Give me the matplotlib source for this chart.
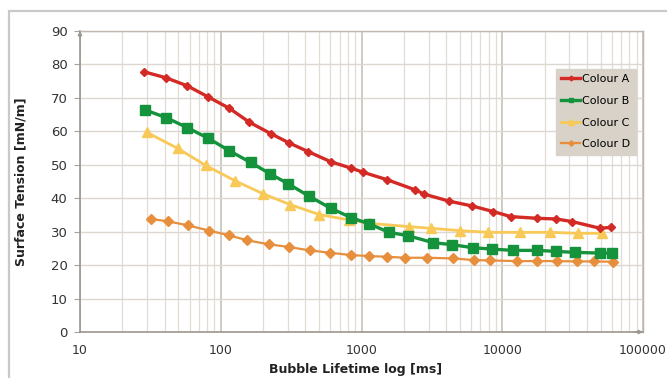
import matplotlib.pyplot as plt
from matplotlib.patches import Rectangle
from matplotlib.ticker import LogLocator, FixedLocator, NullFormatter

# bubble lifetime [ms] and surface tension [mN/m]
time_a = [28.5, 40.9, 57.9, 81.3, 115, 160, 227, 307, 420, 605, 844, 1021,
          1528, 2405, 2800, 4217, 6080, 8650, 11510, 17620, 24150, 31550,
          49650, 59150]
tension_a = [77.8, 76.0, 73.6, 70.3, 66.9, 62.7, 59.3, 56.5, 53.9, 50.9, 49.0,
             47.8, 45.5, 42.5, 41.2, 39.1, 37.7, 36.0, 34.5, 34.0, 33.8, 33.0,
             31.0, 31.3]

time_b = [29.0, 40.9, 57.9, 81.7, 115, 163, 224, 302, 424, 605, 844, 1138,
          1571, 2133, 3244, 4428, 6180, 8440, 11890, 17790, 24150, 32960,
          49650, 60100]
tension_b = [66.4, 64.1, 61.1, 57.9, 54.2, 50.7, 47.3, 44.3, 40.6, 37.0, 34.2,
             32.3, 29.8, 28.8, 26.7, 26.1, 25.2, 24.8, 24.4, 24.4, 24.1, 23.8,
             23.6, 23.6]

time_c = [29.8, 49.5, 78.2, 126.4, 200.8, 311, 502, 820, 1138, 2180, 3125,
          5020, 7980, 13400, 21900, 34800, 51050]
tension_c = [59.7, 54.9, 49.8, 45.2, 41.3, 38.1, 35.1, 33.5, 32.5, 31.5, 31.0,
             30.3, 29.8, 29.8, 29.8, 29.5, 29.5]

time_d = [31.8, 42.0, 58.3, 83.0, 115, 154.5, 221.5, 306, 429, 598, 844, 1138,
          1513, 2042, 2912, 4500, 6310, 8200, 12700, 17790, 24400, 33900,
          44500, 61100]
tension_d = [33.8, 33.1, 31.9, 30.3, 28.9, 27.4, 26.2, 25.4, 24.4, 23.7, 23.0,
             22.7, 22.5, 22.2, 22.2, 22.0, 21.5, 21.4, 21.2, 21.2, 21.2, 21.1,
             21.1, 21.0]

x_ticks = [10, 100, 1000, 10000, 100000]
x_tick_labels = ["10", "100", "1000", "10000", "100000"]
y_ticks = list(range(0, 91, 10))

plt.rcParams['font.family'] = ['DejaVu Sans']

fig = plt.figure(figsize=(6.67, 3.78), dpi=100)
ax = fig.add_axes([80 / 667, 46 / 378, 563 / 667, 301 / 378])

# grey frame round the whole chart (only top and left edges show)
fig.patches.append(Rectangle((9 / 667, -0.2), 1.2, 0.2 + 367 / 378,
                             transform=fig.transFigure, fill=False,
                             edgecolor="#c9c9c9", linewidth=1.6))

grid_col = "#e0ddd7"
ax.set_xscale("log")
ax.set_xlim(10, 100000)
ax.set_ylim(0, 90)

# grid
ax.xaxis.set_minor_locator(LogLocator(base=10, subs=range(2, 10)))
ax.xaxis.set_minor_formatter(NullFormatter())
ax.grid(True, which="minor", axis="x", color=grid_col, linewidth=0.9)
ax.grid(True, which="major", axis="x", color="#c2bcb2", linewidth=1.1)
ax.grid(True, which="major", axis="y", color="#dcd8d1", linewidth=1.0)
ax.set_axisbelow(True)

ax.plot(time_a, tension_a, color="#d42a26", lw=2.4, marker="D", ms=4.5,
        label="Colour A", zorder=5)
ax.plot(time_b, tension_b, color="#14923c", lw=2.4, marker="s", ms=6.5,
        label="Colour B", zorder=4)
ax.plot(time_c, tension_c, color="#f8c956", lw=2.0, marker="^", ms=7,
        label="Colour C", zorder=3)
ax.plot(time_d, tension_d, color="#e78f3c", lw=1.6, marker="D", ms=5,
        label="Colour D", zorder=3)

ax.xaxis.set_major_locator(FixedLocator(x_ticks))
ax.set_xticklabels(x_tick_labels)
ax.set_yticks(y_ticks)
ax.tick_params(axis="x", which="both", length=0, pad=9, labelsize=9,
               labelcolor="#333333")
ax.tick_params(axis="y", length=4, color="#a8a298", pad=5, labelsize=9.5,
               labelcolor="#333333")

for side in ["top", "right"]:
    ax.spines[side].set_color("#bdb7ad")
    ax.spines[side].set_linewidth(1.0)
for side in ["left", "bottom"]:
    ax.spines[side].set_color("#9c968c")
    ax.spines[side].set_linewidth(1.2)

# small arrow heads at the axis ends
ax.annotate("", xy=(0, 1.01), xycoords="axes fraction", xytext=(0, 0.97),
            arrowprops=dict(arrowstyle="-|>", color="#9c968c", lw=1,
                            mutation_scale=6))
ax.annotate("", xy=(1.005, 0), xycoords="axes fraction", xytext=(0.98, 0),
            arrowprops=dict(arrowstyle="-|>", color="#9c968c", lw=1,
                            mutation_scale=6))

ax.set_xlabel("Bubble Lifetime log [ms]", fontsize=9, fontweight="bold",
              color="#222222")
ax.xaxis.set_label_coords(0.49, -0.103)
ax.set_ylabel("Surface Tension [mN/m]", fontsize=9, fontweight="bold",
              color="#222222")
ax.yaxis.set_label_coords(-0.093, 0.5)

leg = ax.legend(loc="upper left", bbox_to_anchor=(0.845, 0.875),
                frameon=True, fancybox=False, fontsize=8,
                handlelength=1.7, handletextpad=0.2, labelspacing=1.05,
                borderpad=0.5, markerscale=0.55, borderaxespad=0)
leg.get_frame().set_facecolor("#d8d2c8")
leg.get_frame().set_edgecolor("#d8d2c8")
leg.get_frame().set_alpha(1)

fig.savefig("out.png", dpi=100)
